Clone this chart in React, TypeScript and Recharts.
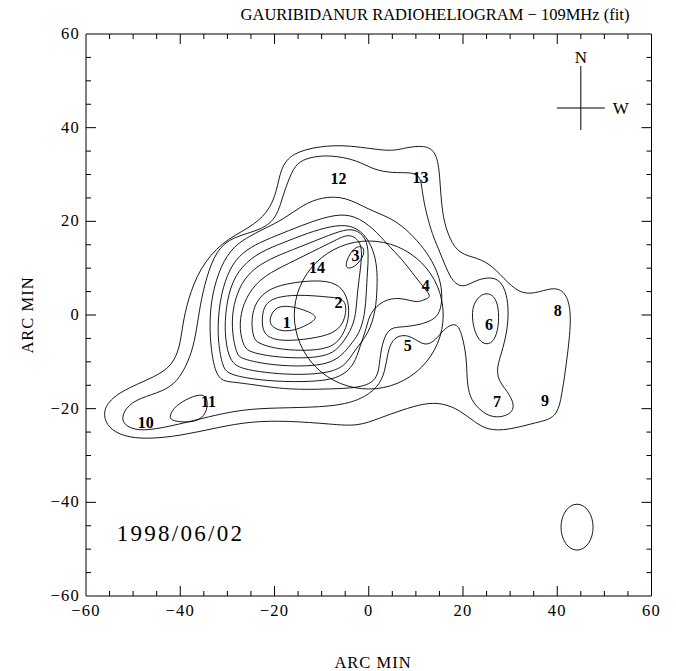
import React from 'react';
import { ScatterChart, Scatter, XAxis, YAxis, Label } from 'recharts';

const W = 676;
const H = 671;
const PLOT_W = 565.5;
const PLOT_H = 562;
const PXX = PLOT_W / 120;
const PXY = PLOT_H / 120;
const FONT = '"Liberation Serif", "DejaVu Serif", serif';

const title = 'GAURIBIDANUR RADIOHELIOGRAM \u2212 109MHz (fit)';
const axisTitle = 'ARC MIN';
const dateText = '1998/06/02';
const xTicks = [-60, -55, -50, -45, -40, -35, -30, -25, -20, -15, -10, -5, 0, 5, 10, 15, 20, 25, 30, 35, 40, 45, 50, 55, 60];
const yTicks = [-60, -55, -50, -45, -40, -35, -30, -25, -20, -15, -10, -5, 0, 5, 10, 15, 20, 25, 30, 35, 40, 45, 50, 55, 60];
const majorTicks = [-60, -40, -20, 0, 20, 40, 60];

// contour levels (arc-min coordinates), outermost first
const contourL1 = [[-56.5, -20.6], [-54.6, -17.7], [-50.7, -15.4], [-45.4, -13.2], [-41.8, -10.9], [-40.1, -7.0], [-39.5, -2.1], [-38.4, 3.2], [-35.9, 10], [-31.2, 15.6], [-25.3, 18.6], [-21.4, 21.8], [-19.5, 26.3], [-18.7, 31.4], [-16.3, 34.6], [-10.4, 36.1], [-4, 36.3], [4.5, 34.8], [7.6, 35.7], [11.9, 36.3], [14.4, 34.8], [15.1, 29.9], [15.5, 21.4], [17.2, 16], [19.3, 13], [23.1, 12.2], [26.3, 10.5], [29.5, 6.8], [32.7, 4.3], [36.3, 4.9], [39.5, 6], [42, 4.7], [43.1, 0], [42.2, -8.5], [41, -17.1], [39.9, -22], [35.7, -22.9], [29.5, -24.6], [25.3, -24.6], [22.5, -22.9], [19.3, -20.3], [15.7, -18.8], [11.9, -18.8], [7, -20.3], [2.3, -22], [-2.3, -23.8], [-8, -23.3], [-17, -22.6], [-25, -22.7], [-32, -24], [-40, -25.8], [-47, -26.5], [-52, -26], [-55.5, -24]];
const contourL2 = [[-52.5, -21.5], [-50.5, -18.5], [-46, -17], [-42, -15.5], [-39.5, -12.5], [-37.5, -8], [-36.5, -3], [-35.8, 2], [-34.5, 8], [-32.3, 13.9], [-28.9, 16.7], [-22.5, 18.2], [-19.5, 20.9], [-18.3, 25.2], [-16.8, 29.5], [-15.3, 32.5], [-12.5, 33.7], [-8.3, 34.2], [-2.5, 33.1], [1, 31], [5.1, 30.3], [9.3, 30.5], [11, 29.5], [11.3, 26.7], [11.9, 23.1], [13, 18.8], [14, 16], [15.5, 12.4], [17.2, 8.1], [18.7, 6.4], [20.4, 6], [22.9, 7.5], [25.7, 8.1], [27.8, 7.5], [29.3, 4.7], [29.7, 0.4], [29.3, -3.8], [28.2, -8.1], [27.2, -11.1], [27.4, -13.9], [29.5, -16.4], [30.8, -18.8], [30.6, -20.7], [28.5, -21.8], [25.7, -21.8], [23.1, -19.9], [21.4, -17.5], [20.8, -13.9], [20.8, -9], [19.7, -3.8], [18.7, -1.9], [17.2, -2.1], [15.5, -3.6], [14.2, -5.3], [12.5, -6.4], [11, -6], [9, -4.6], [7, -4.2], [5, -5.2], [4, -8], [3.5, -12], [2, -15.5], [-2, -18.3], [-8, -19.6], [-17, -19.8], [-25, -20], [-31, -21], [-37, -22.5], [-44, -24.2], [-49, -24.8], [-52, -23.5]];
const contourL3 = [[-32, -14], [-33.3, -9], [-33.8, -3], [-33.5, 3], [-32, 9], [-29.5, 13.9], [-26, 16.5], [-22, 18.5], [-18, 20.5], [-14, 23.5], [-10, 25.2], [-5, 25.3], [0, 22.5], [4, 21], [7.2, 19], [10.2, 16], [13, 12.5], [15.1, 8], [15.7, 3.8], [15.1, 0.4], [13.6, -1.1], [10.8, -2.1], [7.2, -2.6], [4.5, -2.6], [3, -5.3], [2.3, -9.6], [2, -13.5], [-1, -15.5], [-8, -15.8], [-17, -16], [-25, -14.8], [-29, -14.3]];
const contourL4 = [[-31, -11], [-32, -6], [-32, 0], [-31, 6], [-29, 11], [-26, 14], [-22, 16], [-17, 18], [-12, 20], [-7, 21.5], [-3, 21.3], [1, 18.5], [4, 15], [7, 12], [10, 8], [12, 5.5], [13.4, 3.8], [11.5, 3.2], [10.2, 2.6], [6.6, 3.8], [3, 3.2], [0.2, 0.4], [-0.4, -2.6], [-1.9, -6.8], [-3, -10.5], [-6, -13.5], [-12, -14.3], [-20, -14.2], [-26, -13.5], [-30, -12.5]];
const contourL5 = [[-29.5, -10], [-30.5, -5], [-30.5, 0], [-29.5, 6], [-27, 10.5], [-23, 13.5], [-18, 15.5], [-13, 17.5], [-8, 19], [-4, 19.3], [-1, 17.5], [1, 14], [1.8, 10], [1.8, 6], [1.5, 1], [0, -4], [-3, -7.5], [-5, -11], [-9, -12.5], [-16, -12.8], [-22, -12.3], [-27, -11.5]];
const contourL6 = [[-28, -8.5], [-29, -4], [-29, 1], [-27.5, 6], [-25, 9.5], [-21, 12], [-16, 14], [-11, 16], [-6, 18], [-3, 18.5], [-0.5, 16.5], [0, 13], [-0.3, 9], [-0.5, 5], [-0.8, 0], [-2, -4], [-4, -6.5], [-5.5, -8.5], [-9, -10.8], [-17, -11], [-23, -10.3], [-27, -9.3]];
const contourL7 = [[-26.5, -7], [-27.5, -3], [-27, 1.5], [-25, 5.5], [-22, 8.5], [-17, 11], [-12, 13.5], [-7, 16], [-4, 17.5], [-1.5, 15.5], [-1.5, 12], [-2, 8], [-2.5, 4], [-2.8, -1], [-4.5, -4.5], [-6, -6.5], [-8, -8.5], [-13, -9.3], [-20, -9], [-25, -8]];
const contourL8 = [[-24.5, -5], [-25, -1], [-24, 3], [-21, 5.8], [-16, 7], [-10, 7.5], [-6, 6.5], [-4.2, 3], [-4.2, -1], [-5.5, -4.5], [-8, -7.2], [-14, -7.7], [-20, -7.2], [-23.5, -6]];
const contourL9 = [[-22.7, -0.6], [-22.1, 2.6], [-18.9, 4.1], [-13.6, 4.3], [-8.3, 3.8], [-4.8, 3.5], [-4.8, 0], [-5.9, -2.6], [-8.3, -4.3], [-13.8, -5.3], [-19.3, -5.6], [-22.5, -4.2]];
const contourL10 = [[-21, -0.4], [-19.7, 1.8], [-16.7, 2.0], [-12.8, 0.8], [-10.8, -0.4], [-12.2, -1.7], [-15.3, -3.2], [-18.5, -3.6], [-21, -2.3]];
const island3 = [[-5.2, 10.4], [-3.6, 14.2], [-1.2, 15], [-0.8, 13], [-2.5, 10.6], [-4.2, 9.8]];
const island11 = [[-42.3, -21.5], [-41.1, -19.4], [-38, -17.6], [-35.3, -16.8], [-34.1, -17.9], [-34.4, -21.1], [-36.5, -22.8], [-39.6, -22.9], [-42, -22.5]];
const island6 = [[21.8, 1.7], [23.5, 4.2], [25.1, 4.7], [26.6, 4.1], [27.6, 1.7], [27.6, -2.6], [26.6, -5.6], [25.1, -6.4], [23.4, -5.6], [22.1, -2.6]];

const contours = [contourL1, contourL2, contourL3, contourL4, contourL5, contourL6, contourL7, contourL8, contourL9, contourL10, island3, island11, island6];

// peak labels
const peakIds = ['1', '2', '3', '4', '5', '6', '7', '8', '9', '10', '11', '12', '13', '14'];
const peakX = [-17.4, -6.4, -2.8, 12.1, 8.3, 25.5, 27.2, 40.1, 37.4, -47.3, -34, -6.4, 11, -11];
const peakY = [-1.7, 2.6, 12.6, 6.2, -6.6, -2.1, -18.6, 0.9, -18.4, -23.1, -18.6, 29, 29.3, 10];

// solar disk, beam, compass, date
const sun = [{ x: 0, y: 0, r: 15.8 }];
const beam = [{ x: 44.2, y: -45.3, rx: 3.4, ry: 4.9 }];
const compass = [{ x: 45, y: 44.2 }];
const dateMark = [{ x: -53.5, y: -46.5 }];

const peakData = peakIds.map((id, i) => ({ x: peakX[i], y: peakY[i], id }));
const contourData = contours.map((c) => c.map(([x, y]) => ({ x, y })));

const fmt = (v: number) => (v < 0 ? '\u2212' + Math.abs(v) : String(v));
const isMajor = (v: number) => majorTicks.includes(v);

const BottomTick = (p: any) => {
  const { x, y, payload } = p;
  const v = payload.value;
  const len = isMajor(v) ? 10 : 5;
  return (
    <g>
      {Math.abs(v) !== 60 && <line x1={x} y1={y} x2={x} y2={y - len} stroke="#000" />}
      {isMajor(v) && (
        <text x={x} y={y + 20} textAnchor="middle" fontFamily={FONT} fontSize={16.5} letterSpacing={1.2} fill="#000">
          {fmt(v)}
        </text>
      )}
    </g>
  );
};
const TopTick = (p: any) => {
  const { x, y, payload } = p;
  const v = payload.value;
  const len = isMajor(v) ? 10 : 5;
  return Math.abs(v) !== 60 ? <line x1={x} y1={y} x2={x} y2={y + len} stroke="#000" /> : <g />;
};
const LeftTick = (p: any) => {
  const { x, y, payload } = p;
  const v = payload.value;
  const len = isMajor(v) ? 10 : 5;
  return (
    <g>
      {Math.abs(v) !== 60 && <line x1={x} y1={y} x2={x + len} y2={y} stroke="#000" />}
      {isMajor(v) && (
        <text x={x - 6} y={y + 5} textAnchor="end" fontFamily={FONT} fontSize={16.5} letterSpacing={1.2} fill="#000">
          {fmt(v)}
        </text>
      )}
    </g>
  );
};
const RightTick = (p: any) => {
  const { x, y, payload } = p;
  const v = payload.value;
  const len = isMajor(v) ? 10 : 5;
  return Math.abs(v) !== 60 ? <line x1={x} y1={y} x2={x - len} y2={y} stroke="#000" /> : <g />;
};

const NoShape = () => <g />;

const PeakShape = (p: any) => (
  <text x={p.cx} y={p.cy + 5} textAnchor="middle" fontFamily={FONT} fontWeight="bold" fontSize={16} fill="#000">
    {p.payload.id}
  </text>
);
const SunShape = (p: any) => (
  <ellipse cx={p.cx} cy={p.cy} rx={p.payload.r * PXX} ry={p.payload.r * PXY} fill="none" stroke="#000" strokeWidth={0.9} />
);
const BeamShape = (p: any) => (
  <ellipse cx={p.cx} cy={p.cy} rx={p.payload.rx * PXX} ry={p.payload.ry * PXY} fill="none" stroke="#000" strokeWidth={0.9} />
);
const CompassShape = (p: any) => (
  <g>
    <line x1={p.cx} y1={p.cy - 42} x2={p.cx} y2={p.cy + 22} stroke="#000" />
    <line x1={p.cx - 24} y1={p.cy} x2={p.cx + 24} y2={p.cy} stroke="#000" />
    <text x={p.cx} y={p.cy - 45} textAnchor="middle" fontFamily={FONT} fontSize={17} fill="#000">N</text>
    <text x={p.cx + 40} y={p.cy + 6} textAnchor="middle" fontFamily={FONT} fontSize={17} fill="#000">W</text>
  </g>
);
const DateShape = (p: any) => (
  <text x={p.cx} y={p.cy + 8} textAnchor="start" fontFamily={FONT} fontSize={23} letterSpacing={2.3} fill="#000">{dateText}</text>
);

export default function App() {
  return (
    <div style={{ position: 'absolute', left: 0, top: 0, width: W, height: H }}>
      <ScatterChart width={W} height={H} margin={{ top: 14, right: 14.5, bottom: 7, left: 0 }}>
        <XAxis xAxisId="b" type="number" dataKey="x" domain={[-60, 60]} ticks={xTicks} interval={0} orientation="bottom"
          height={68} tickSize={0} tickMargin={0} tickLine={false} tick={BottomTick} stroke="#000" allowDataOverflow>
          <Label content={() => (
            <text x={373} y={668} textAnchor="middle" fontFamily={FONT} fontSize={16.5} letterSpacing={1} fill="#000">{axisTitle}</text>
          )} />
        </XAxis>
        <XAxis xAxisId="t" type="number" dataKey="x" domain={[-60, 60]} ticks={xTicks} interval={0} orientation="top"
          height={20} tickSize={0} tickMargin={0} tickLine={false} tick={TopTick} stroke="#000" allowDataOverflow>
          <Label content={() => (
            <text x={435} y={20} textAnchor="middle" fontFamily={FONT} fontSize={16.5} fill="#000">{title}</text>
          )} />
        </XAxis>
        <YAxis yAxisId="l" type="number" dataKey="y" domain={[-60, 60]} ticks={yTicks} interval={0} orientation="left"
          width={86} tickSize={0} tickMargin={0} tickLine={false} tick={LeftTick} stroke="#000" allowDataOverflow>
          <Label content={() => (
            <text x={33} y={315} textAnchor="middle" fontFamily={FONT} fontSize={16.5} letterSpacing={1} fill="#000"
              transform="rotate(-90 33 315)">{axisTitle}</text>
          )} />
        </YAxis>
        <YAxis yAxisId="r" type="number" dataKey="y" domain={[-60, 60]} ticks={yTicks} interval={0} orientation="right"
          width={10} tickSize={0} tickMargin={0} tickLine={false} tick={RightTick} stroke="#000" allowDataOverflow />
        {contourData.map((d, i) => (
          <Scatter key={'c' + i} xAxisId="b" yAxisId="l" data={d} line={{ stroke: '#000', strokeWidth: 0.9 }}
            lineType="joint" lineJointType="basisClosed" shape={NoShape} isAnimationActive={false} />
        ))}
        <Scatter xAxisId="b" yAxisId="l" data={sun} shape={SunShape} isAnimationActive={false} />
        <Scatter xAxisId="b" yAxisId="l" data={beam} shape={BeamShape} isAnimationActive={false} />
        <Scatter xAxisId="b" yAxisId="l" data={compass} shape={CompassShape} isAnimationActive={false} />
        <Scatter xAxisId="b" yAxisId="l" data={dateMark} shape={DateShape} isAnimationActive={false} />
        <Scatter xAxisId="b" yAxisId="l" data={peakData} shape={PeakShape} isAnimationActive={false} />
      </ScatterChart>
    </div>
  );
}
